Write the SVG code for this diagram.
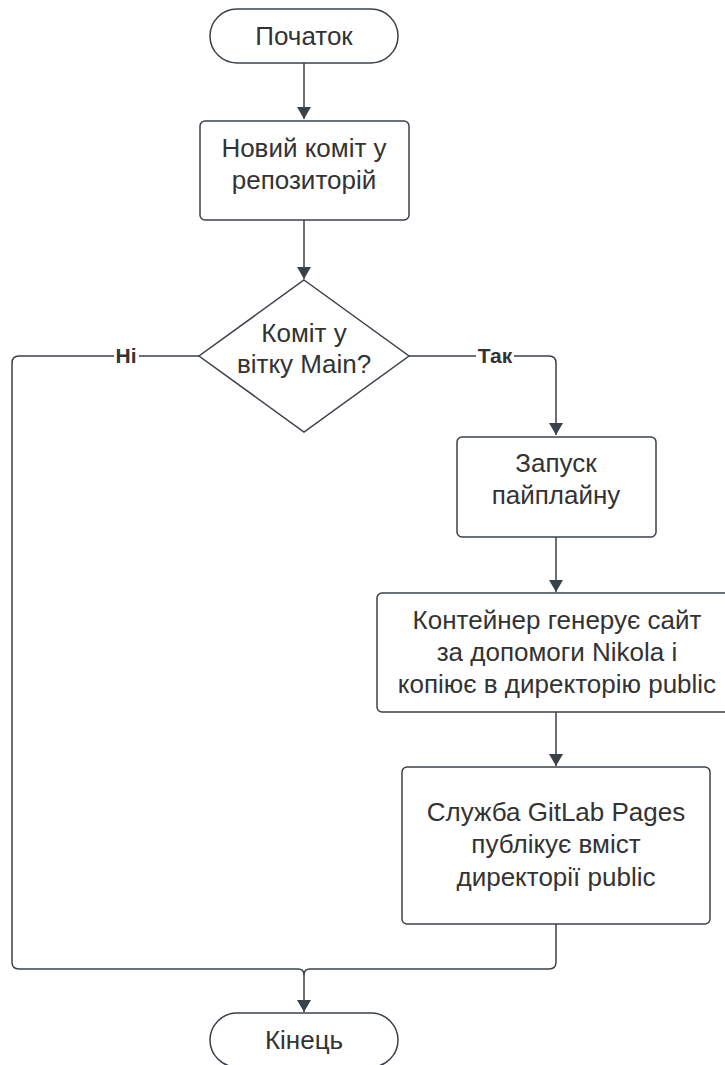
<svg xmlns="http://www.w3.org/2000/svg" width="725" height="1065" viewBox="0 0 725 1065">
<style>
.shape{fill:#ffffff;stroke:#3a414a;stroke-width:1.5}
.t{font-family:"Liberation Sans",Arial,sans-serif;font-size:26px;fill:#333333;text-anchor:middle;dominant-baseline:central}
.lbl{font-family:"Liberation Sans",Arial,sans-serif;font-size:21px;font-weight:bold;fill:#333333;text-anchor:middle;dominant-baseline:central}
.c{fill:none;stroke:#3a414a;stroke-width:1.5}
</style>
<defs>
<marker id="arr" markerWidth="12" markerHeight="20" viewBox="0 0 12 20" refX="12" refY="10" orient="auto" markerUnits="userSpaceOnUse">
<path d="M0,3 L12,10 L0,17 Z" fill="#3a414a"/>
</marker>
</defs>
<rect width="725" height="1065" fill="#ffffff"/>
<g id="connectors">
<path class="c" d="M304,63 V119" marker-end="url(#arr)"/>
<path class="c" d="M304,220 V279" marker-end="url(#arr)"/>
<path class="c" d="M409,356 H549 Q556,356 556,363 V435" marker-end="url(#arr)"/>
<path class="c" d="M556,537 V592" marker-end="url(#arr)"/>
<path class="c" d="M556,712 V766" marker-end="url(#arr)"/>
<path class="c" d="M199,356 H19 Q12,356 12,363 V962 Q12,969 19,969 H298 Q304,969 304,975 V1012" marker-end="url(#arr)"/>
<path class="c" d="M556,924 V962 Q556,969 549,969 H310 Q304,969 304,975"/>
<rect x="114" y="342" width="25" height="26" fill="#ffffff"/>
<text class="lbl" x="126" y="355">Ні</text>
<rect x="476" y="342" width="38" height="26" fill="#ffffff"/>
<text class="lbl" x="495" y="355">Так</text>
</g>
<g id="start">
<rect class="shape" x="210" y="9" width="188" height="54" rx="27"/>
<text class="t" x="304" y="36">Початок</text>
</g>
<g id="new-commit">
<rect class="shape" x="200" y="121" width="209" height="99" rx="5"/>
<text class="t" x="304" y="148">Новий коміт у</text>
<text class="t" x="304" y="180">репозиторій</text>
</g>
<g id="decision">
<polygon class="shape" points="304,280 409,356 304,432 199,356"/>
<text class="t" x="304" y="333">Коміт у</text>
<text class="t" x="304" y="364">вітку Main?</text>
</g>
<g id="pipeline">
<rect class="shape" x="457" y="437" width="199" height="100" rx="5"/>
<text class="t" x="556" y="463">Запуск</text>
<text class="t" x="556" y="495">пайплайну</text>
</g>
<g id="container">
<rect class="shape" x="377" y="593" width="360" height="119" rx="5"/>
<text class="t" x="557" y="620">Контейнер генерує сайт</text>
<text class="t" x="557" y="652">за допомоги Nikola і</text>
<text class="t" x="557" y="684">копіює в директорію public</text>
</g>
<g id="gitlab-pages">
<rect class="shape" x="402" y="767" width="308" height="157" rx="5"/>
<text class="t" x="556" y="812">Служба GitLab Pages</text>
<text class="t" x="556" y="844">публікує вміст</text>
<text class="t" x="556" y="877">директорії public</text>
</g>
<g id="end">
<rect class="shape" x="210" y="1013" width="188" height="54" rx="27"/>
<text class="t" x="304" y="1040">Кінець</text>
</g>
</svg>
